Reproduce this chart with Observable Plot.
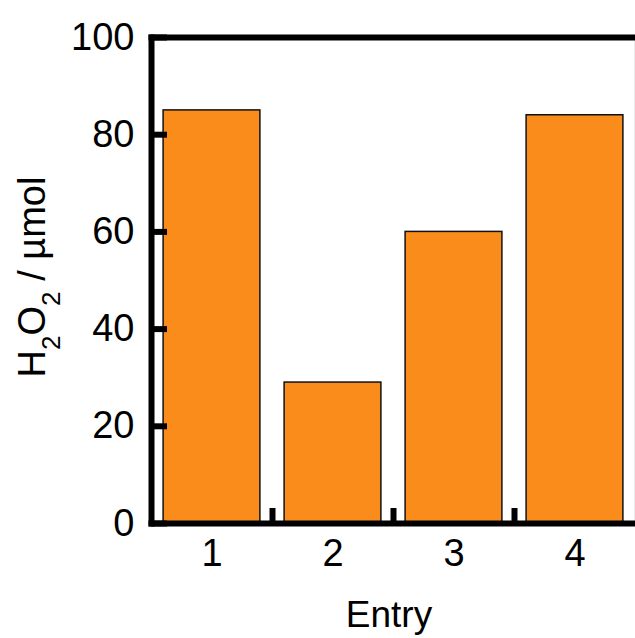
<!DOCTYPE html>
<html>
<head>
<meta charset="utf-8">
<script src="https://cdn.jsdelivr.net/npm/d3@7"></script>
<script src="https://cdn.jsdelivr.net/npm/@observablehq/plot@0.6"></script>
<style>
  html, body { margin: 0; padding: 0; background: #fff; overflow: hidden; }
  svg { display: block; font-family: "Liberation Sans", Arial, sans-serif; }
</style>
</head>
<body>
<div id="chart"></div>
<script>
const entries = [1, 2, 3, 4];
const values = [85, 29, 60, 84];
const yTicks = [0, 20, 40, 60, 80, 100];
const boundaries = [1.5, 2.5, 3.5];
const xLabel = "Entry";

const data = entries.map((e, i) => ({entry: e, value: values[i]}));
const halfWidth = 0.40;

const W = 635, H = 638;
const mL = 151, mR = 0, mT = 37, mB = 115;
const chart = Plot.plot({
  width: W,
  height: H,
  marginLeft: mL,
  marginRight: mR,
  marginTop: mT,
  marginBottom: mB,
  style: {fontFamily: "Liberation Sans, Arial, sans-serif", background: "#fff"},
  x: {domain: [0.5, 4.5], label: null},
  y: {domain: [0, 100], label: null},
  marks: [
    Plot.rect(data, {
      x1: d => d.entry - halfWidth,
      x2: d => d.entry + halfWidth,
      y1: 0,
      y2: "value",
      fill: "#FA8C1C",
      stroke: "#111",
      strokeWidth: 1.5
    }),
    Plot.axisY({ticks: yTicks, text: null, tickSize: -16, strokeWidth: 6, stroke: "#000"}),
    Plot.axisY({ticks: yTicks, tickSize: 0, tickPadding: 17, fontSize: 38, fill: "#000", label: null}),
    Plot.axisX({ticks: boundaries, text: null, tickSize: -15, strokeWidth: 6, stroke: "#000"}),
    Plot.axisX({ticks: entries, tickSize: 0, tickPadding: 16, fontSize: 38, fill: "#000", label: null, tickFormat: d => String(d)}),
    Plot.frame({anchor: "right", stroke: "#aaa", strokeWidth: 1.5}),
    Plot.frame({anchor: "top", stroke: "#000", strokeWidth: 6}),
    Plot.frame({anchor: "bottom", stroke: "#000", strokeWidth: 6}),
    Plot.frame({anchor: "left", stroke: "#000", strokeWidth: 6})
  ]
});
document.getElementById("chart").appendChild(chart);

const svg = d3.select(chart);
// x axis title
svg.append("text")
  .attr("x", (mL + W - mR) / 2 - 4)
  .attr("y", 627)
  .attr("text-anchor", "middle")
  .attr("font-size", 37)
  .attr("fill", "#000")
  .text(xLabel);

// y axis title with subscripts
const yt = svg.append("text")
  .attr("transform", `translate(45, ${(mT + H - mB) / 2 - 3}) rotate(-90)`)
  .attr("text-anchor", "middle")
  .attr("font-size", 38)
  .attr("fill", "#000");
yt.append("tspan").text("H");
yt.append("tspan").attr("dy", 15).attr("font-size", 26).text("2");
yt.append("tspan").attr("dy", -15).text("O");
yt.append("tspan").attr("dy", 15).attr("font-size", 26).text("2");
yt.append("tspan").attr("dy", -15).text(" / µmol");
</script>
</body>
</html>
